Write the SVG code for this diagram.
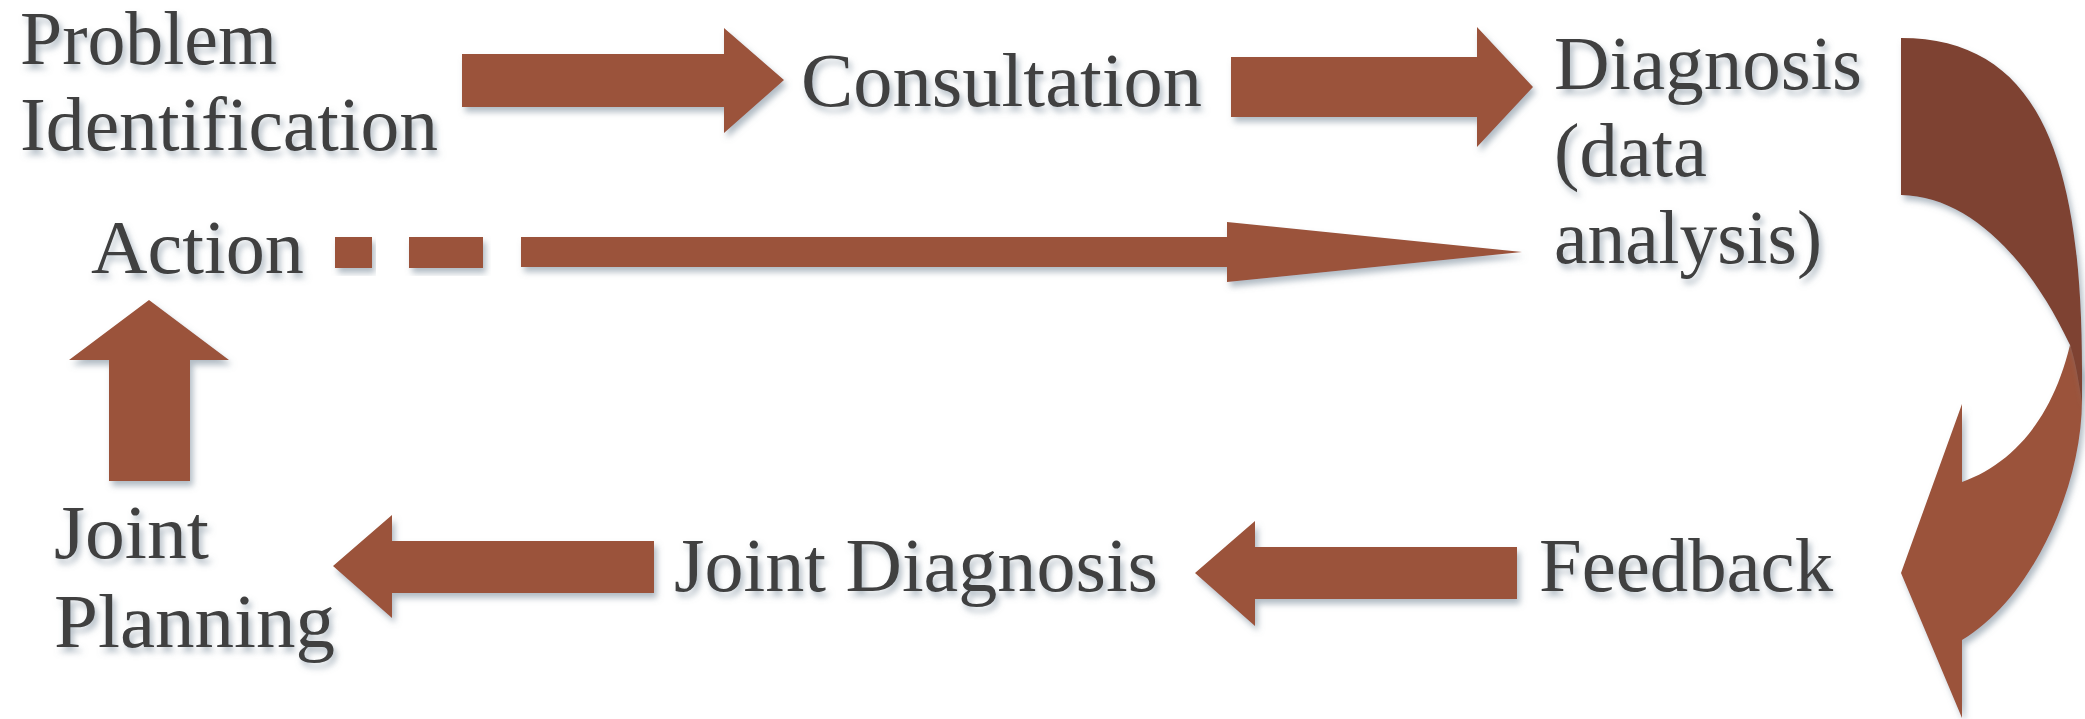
<svg xmlns="http://www.w3.org/2000/svg" width="2085" height="719" viewBox="0 0 2085 719">
  <defs>
    <filter id="sh" x="-10%" y="-15%" width="120%" height="140%">
      <feDropShadow dx="3" dy="5" stdDeviation="3" flood-color="#6f8393" flood-opacity="0.55"/>
    </filter>
  </defs>
  <style>
    .lbl { font-family: "Liberation Serif", "Times New Roman", serif; font-size: 76px; fill: #404040; filter: url(#sh); }
    .arr { fill: #9b533a; filter: url(#sh); }
    .dark { fill: #7e4330; filter: url(#sh); }
  </style>
  <rect width="2085" height="719" fill="#ffffff"/>

  <g id="connectors">
    <path id="c1" class="arr" d="M462,54 L724,54 L724,28 L784,80 L724,133 L724,107 L462,107 Z"/>
    <path id="c2" class="arr" d="M1231,57 L1477,57 L1477,27 L1533,87 L1477,147 L1477,117 L1231,117 Z"/>
    <g id="c3">
      <path class="arr" d="M2070,345 L2082,370 L2082,400 C2082,490 2030,600 1962,640 L1962,718 L1901,573 L1962,404 L1962,482 C2012,464 2052,420 2070,345 Z"/>
      <path class="dark" d="M1901,38 C2040,38 2082,160 2082,370 L2082,402 C2079,385 2076,362 2070,345 C2030,260 1970,196 1901,195 Z"/>
    </g>
    <path id="c4" class="arr" d="M1517,547 L1255,547 L1255,521 L1195,573 L1255,626 L1255,599 L1517,599 Z"/>
    <path id="c5" class="arr" d="M654,541 L392,541 L392,515 L333,566 L392,618 L392,593 L654,593 Z"/>
    <path id="c6" class="arr" d="M109,481 L109,360 L69,360 L149,300 L229,360 L190,360 L190,481 Z"/>
    <g id="c7">
      <rect class="arr" x="335" y="237" width="37" height="31"/>
      <rect class="arr" x="409" y="237" width="74" height="31"/>
      <path class="arr" d="M521,237 L1227,237 L1227,222 L1522,252 L1227,282 L1227,267 L521,267 Z"/>
    </g>
  </g>

  <g id="problem-identification">
    <text class="lbl" x="20" y="64" textLength="257" lengthAdjust="spacingAndGlyphs">Problem</text>
    <text class="lbl" x="20" y="150" textLength="418" lengthAdjust="spacingAndGlyphs">Identification</text>
  </g>
  <g id="consultation">
    <text class="lbl" x="801" y="106" textLength="401" lengthAdjust="spacingAndGlyphs">Consultation</text>
  </g>
  <g id="diagnosis">
    <text class="lbl" x="1554" y="89" textLength="308" lengthAdjust="spacingAndGlyphs">Diagnosis</text>
    <text class="lbl" x="1554" y="176" textLength="153" lengthAdjust="spacingAndGlyphs">(data</text>
    <text class="lbl" x="1554" y="263" textLength="268" lengthAdjust="spacingAndGlyphs">analysis)</text>
  </g>
  <g id="action">
    <text class="lbl" x="91" y="273" textLength="213" lengthAdjust="spacingAndGlyphs">Action</text>
  </g>
  <g id="feedback">
    <text class="lbl" x="1539" y="591" textLength="294" lengthAdjust="spacingAndGlyphs">Feedback</text>
  </g>
  <g id="joint-diagnosis">
    <text class="lbl" x="674" y="591" textLength="484" lengthAdjust="spacingAndGlyphs">Joint Diagnosis</text>
  </g>
  <g id="joint-planning">
    <text class="lbl" x="54" y="558" textLength="155" lengthAdjust="spacingAndGlyphs">Joint</text>
    <text class="lbl" x="54" y="647" textLength="281" lengthAdjust="spacingAndGlyphs">Planning</text>
  </g>
</svg>
